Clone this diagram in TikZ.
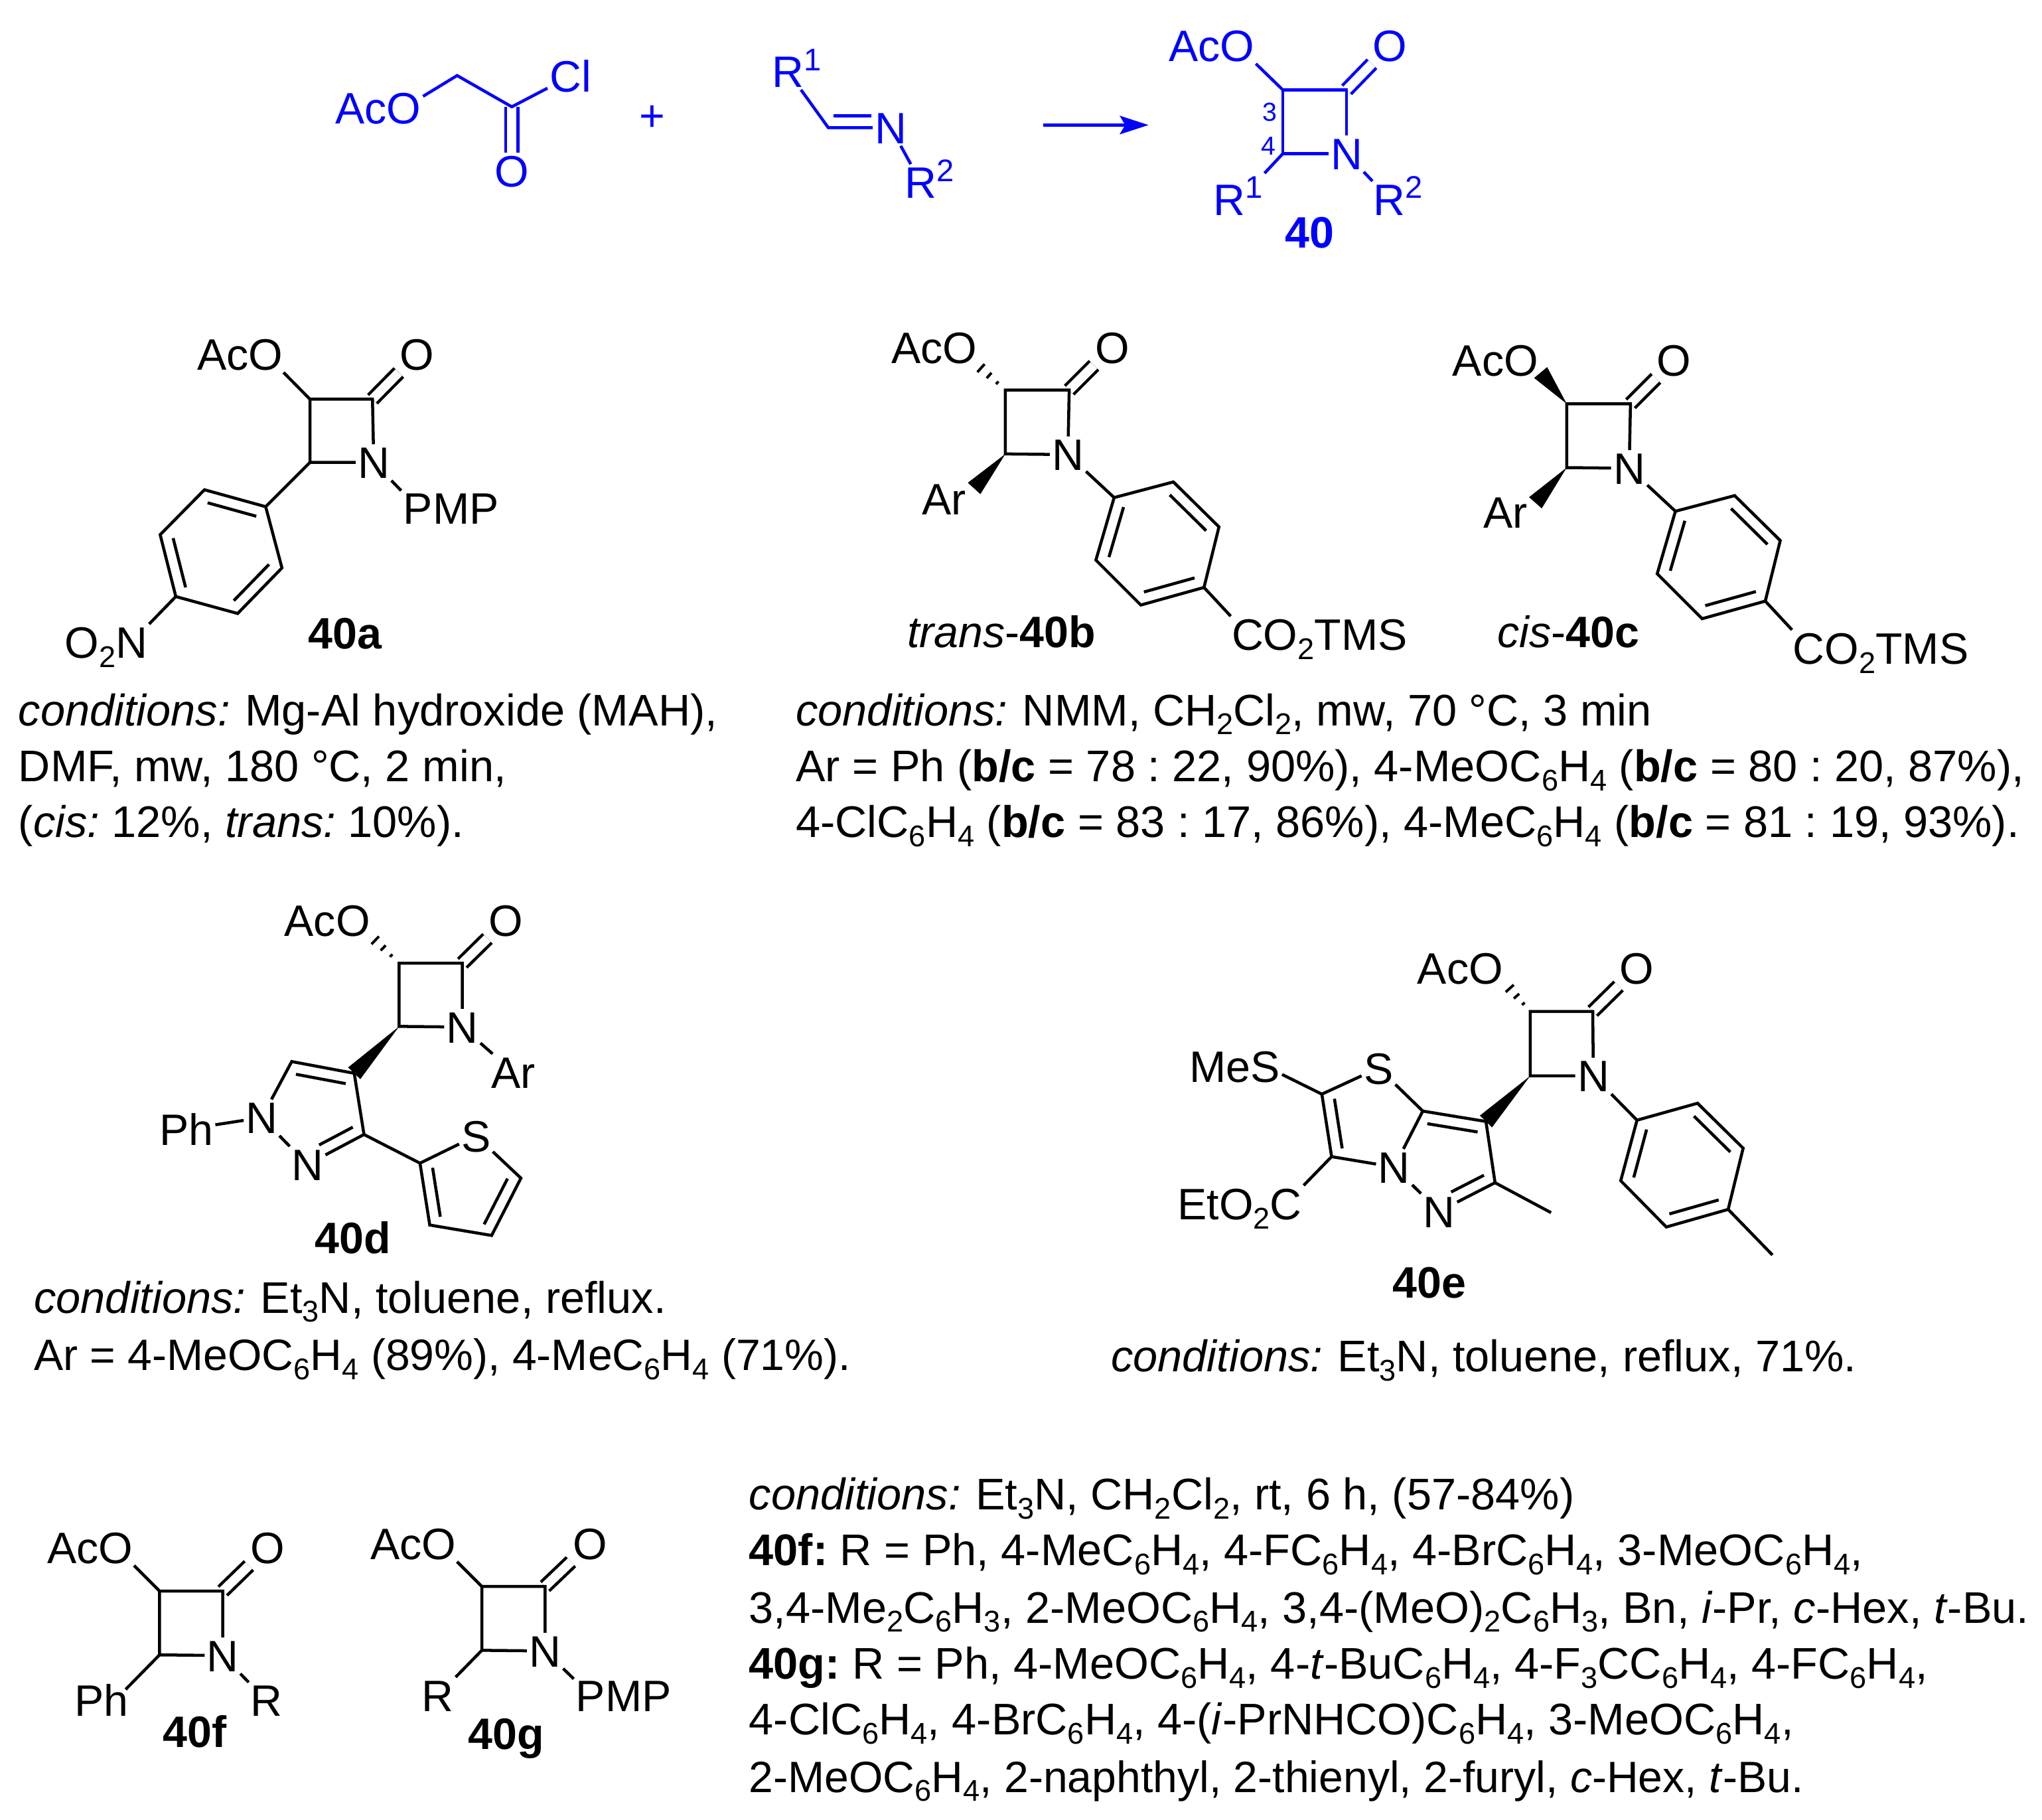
\documentclass[tikz,border=0pt]{standalone}
\usepackage{fontspec}
\setmainfont{Liberation Sans}
\usetikzlibrary{calc,arrows.meta}

\newcommand{\chlo}[1]{\raisebox{-7pt}{\fontsize{23}{23}\selectfont #1}}
\newcommand{\chhi}[1]{\raisebox{13pt}{\fontsize{24}{24}\selectfont #1}}
\newcommand{\cond}{\textit{conditions:}\hspace{2pt} }
% second line of a double bond, beside the first
\newcommand{\inbond}[4][]{\draw[bond,shorten <=5pt,shorten >=5pt,#1] ($(#2)!#4!90:(#3)$) -- ($(#3)!#4!-90:(#2)$);}
\newcommand{\wedgebond}[2]{\fill ($(#2)!6.5pt!90:(#1)$) -- (#1) -- ($(#2)!6.5pt!-90:(#1)$) -- cycle;}
\newcommand{\hashbond}[2]{\foreach \f in {0.25,0.5,0.75,1}{\draw[line width=2pt] ($(#1)!\f!(#2)!\f*5.5pt!90:(#2)$) -- ($(#1)!\f!(#2)!\f*5.5pt!-90:(#2)$);}}

\tikzset{
    every node/.style={font=\fontsize{33.8}{40}\selectfont},
    bond/.style={line width=2.3pt},
    dbl/.style={line width=2.3pt,double,double distance=7pt},
    atom/.style={inner sep=1.5pt,text height=24.5pt,text depth=0pt},
    txt/.style={inner sep=0pt,anchor=base west,font=\fontsize{34}{40}\selectfont},
    txtnarrow/.style={txt,font=\fontsize{33.7}{40}\selectfont},
    locant/.style={inner sep=0pt,font=\fontsize{20}{20}\selectfont},
}

\begin{document}
\frenchspacing
\begin{tikzpicture}[x=1pt,y=-1pt]
    \useasboundingbox (0,0) rectangle (1568,1397);

    % scheme
    \scope[blue]
        \node[atom] (tAO) at (310,83) {\llap{Ac}O};
        \node[atom] (tACl) at (438,58.5) {Cl};
        \node[atom] (tAOx) at (393,131) {O};
        \coordinate (tA1) at (351,58);
        \coordinate (tA2) at (393,82);
        \draw[dbl] (tA2) -- (tAOx);
        \draw[bond] (tAO) -- (tA1) -- (tA2) -- (tACl);
        \node[inner sep=0pt] (tPlus) at (501,91) {+};
        \node[atom] (tIR) at (605,55) {R\rlap{\chhi{1}}};
        \node[atom] (tIN) at (684,98) {N};
        \node[atom] (tIRb) at (707,140) {R\rlap{\chhi{2}}};
        \coordinate (tI1) at (636,98);
        \draw[bond] (tIR) -- (tI1) -- (tIN) -- (tIRb);
        \inbond[shorten <=4pt,shorten >=15pt]{tI1}{tIN}{9pt}
        \coordinate (tArr1) at (801,96);
        \coordinate (tArr2) at (882,96);
        \draw[line width=2.8pt,-{Stealth[length=22pt,width=14pt,inset=4pt]}] (tArr1) -- (tArr2);
        \node[atom] (tO) at (950,35) {\llap{Ac}O};
        \node[atom] (tOx) at (1067,35) {O};
        \node[atom] (tN) at (1034,118) {N};
        \node[atom] (tR1) at (944,153) {R\rlap{\chhi{1}}};
        \node[atom] (tR2) at (1067,153) {R\rlap{\chhi{2}}};
        \coordinate (tC3) at (985,69);
        \coordinate (tC2) at (1034,69);
        \coordinate (tC4) at (985,118);
        \coordinate (tR1e) at (971,133);
        \draw[dbl] (tC2) -- (tOx);
        \draw[bond] (tN) -- (tC4) -- (tC3) -- (tC2) -- (tN);
        \draw[bond] (tC3) -- (tO) (tC4) -- (tR1e) (tN) -- (tR2);
        \node[locant] (tL3) at (975,86) {3};
        \node[locant] (tL4) at (974,112) {4};
        \node[atom] (tLab) at (1005.5,178) {\textbf{40}};
    \endscope

    % 40a
    \node[atom] (aO) at (204,272) {\llap{Ac}O};
    \node[atom] (aOx) at (320,272) {O};
    \node[atom] (aN) at (287,355) {N};
    \node[atom] (aPMP) at (321,390) {P\rlap{MP}};
    \node[atom] (aNO) at (101,493) {\llap{O\chlo{2}}N};
    \node[atom] (aLab) at (265,486) {\textbf{40a}};
    \coordinate (aC3) at (238,306.5);
    \coordinate (aC2) at (286,306.5);
    \coordinate (aC4) at (238,355);
    \coordinate (aP1) at (204,389);
    \coordinate (aP2) at (157,376);
    \coordinate (aP3) at (123,410.5);
    \coordinate (aP4) at (135,458);
    \coordinate (aP5) at (182.5,471);
    \coordinate (aP6) at (216.5,436);
    \draw[dbl] (aC2) -- (aOx);
    \draw[bond] (aN) -- (aC4) -- (aC3) -- (aC2) -- (aN);
    \draw[bond] (aC3) -- (aO) (aN) -- (aPMP) (aC4) -- (aP1) (aP4) -- (aNO);
    \draw[bond] (aP1) -- (aP2) -- (aP3) -- (aP4) -- (aP5) -- (aP6) -- cycle;
    \inbond{aP1}{aP2}{9pt}
    \inbond{aP3}{aP4}{9pt}
    \inbond{aP5}{aP6}{9pt}
    \node[txt] (aT1) at (14,557) {\cond Mg-Al hydroxide (MAH),};
    \node[txt] (aT2) at (14,600) {DMF, mw, 180 °C, 2 min,};
    \node[txt] (aT3) at (14,643) {(\textit{cis:} 12\%, \textit{trans:} 10\%).};

    % 40b
    \node[atom] (bO) at (737,266.5) {\llap{Ac}O};
    \node[atom] (bOx) at (854,266.5) {O};
    \node[atom] (bN) at (820,349) {N};
    \node[atom] (bAr) at (725,383) {Ar};
    \node[atom] (bCO) at (958,487) {C\rlap{O\chlo{2}TMS}};
    \node[atom] (bLab) at (769,485) {\textit{trans}-\textbf{40b}};
    \coordinate (bC3) at (772,299.5);
    \coordinate (bC2) at (821,299.5);
    \coordinate (bC4) at (772,348.5);
    \coordinate (bH) at (747,277);
    \coordinate (bW) at (748,375);
    \coordinate (bP1) at (855.5,382);
    \coordinate (bP2) at (901,370);
    \coordinate (bP3) at (936,404.5);
    \coordinate (bP4) at (924.5,451);
    \coordinate (bP5) at (876,464.5);
    \coordinate (bP6) at (841.5,430);
    \draw[dbl] (bC2) -- (bOx);
    \draw[bond] (bN) -- (bC4) -- (bC3) -- (bC2) -- (bN);
    \hashbond{bC3}{bH}
    \wedgebond{bC4}{bW}
    \draw[bond] (bN) -- (bP1) (bP4) -- (bCO);
    \draw[bond] (bP1) -- (bP2) -- (bP3) -- (bP4) -- (bP5) -- (bP6) -- cycle;
    \inbond{bP2}{bP3}{-9pt}
    \inbond{bP4}{bP5}{-9pt}
    \inbond{bP6}{bP1}{-9pt}

    % 40c
    \node[atom] (cO) at (1168,276.5) {\llap{Ac}O};
    \node[atom] (cOx) at (1285.5,276.5) {O};
    \node[atom] (cN) at (1251,359.5) {N};
    \node[atom] (cAr) at (1156,393) {Ar};
    \node[atom] (cCO) at (1389,497.5) {C\rlap{O\chlo{2}TMS}};
    \node[atom] (cLab) at (1204.5,485) {\textit{cis}-\textbf{40c}};
    \coordinate (cC3) at (1203,310);
    \coordinate (cC2) at (1252,310);
    \coordinate (cC4) at (1203,359);
    \coordinate (cH) at (1183,286);
    \coordinate (cW) at (1179,386);
    \coordinate (cP1) at (1286.5,392.5);
    \coordinate (cP2) at (1332,380.5);
    \coordinate (cP3) at (1367,415);
    \coordinate (cP4) at (1355.5,461.5);
    \coordinate (cP5) at (1307,475);
    \coordinate (cP6) at (1272.5,440.5);
    \draw[dbl] (cC2) -- (cOx);
    \draw[bond] (cN) -- (cC4) -- (cC3) -- (cC2) -- (cN);
    \wedgebond{cC3}{cH}
    \wedgebond{cC4}{cW}
    \draw[bond] (cN) -- (cP1) (cP4) -- (cCO);
    \draw[bond] (cP1) -- (cP2) -- (cP3) -- (cP4) -- (cP5) -- (cP6) -- cycle;
    \inbond{cP2}{cP3}{-9pt}
    \inbond{cP4}{cP5}{-9pt}
    \inbond{cP6}{cP1}{-9pt}
    \node[txt] (bT1) at (611,557) {\cond NMM, CH\chlo{2}Cl\chlo{2}, mw, 70 °C, 3 min};
    \node[txt] (bT2) at (611,600) {Ar = Ph (\textbf{b/c} = 78 : 22, 90\%), 4-MeOC\chlo{6}H\chlo{4} (\textbf{b/c} = 80 : 20, 87\%),};
    \node[txt] (bT3) at (611,643) {4-ClC\chlo{6}H\chlo{4} (\textbf{b/c} = 83 : 17, 86\%), 4-MeC\chlo{6}H\chlo{4} (\textbf{b/c} = 81 : 19, 93\%).};

    % 40d
    \node[atom] (dO) at (271,706.5) {\llap{Ac}O};
    \node[atom] (dOx) at (388.5,706.5) {O};
    \node[atom] (dN) at (355,788.5) {N};
    \node[atom] (dAr) at (394,823) {Ar};
    \node[atom] (dN1) at (201,858) {N};
    \node[atom] (dN2) at (236,894) {N};
    \node[atom] (dPh) at (143,867) {Ph};
    \node[atom] (dS) at (365.5,872) {S};
    \node[atom] (dLab) at (271,950) {\textbf{40d}};
    \coordinate (dC3) at (306.5,739.5);
    \coordinate (dC2) at (355,739.5);
    \coordinate (dC4) at (306.5,788);
    \coordinate (dH) at (282,716);
    \coordinate (dP1) at (272,824);
    \coordinate (dP3) at (279.5,871);
    \coordinate (dP5) at (224,815);
    \coordinate (dT1) at (322.5,893);
    \coordinate (dT2) at (400,904.5);
    \coordinate (dT3) at (377.5,948.5);
    \coordinate (dT4) at (330,940.5);
    \draw[dbl] (dC2) -- (dOx);
    \draw[bond] (dN) -- (dC4) -- (dC3) -- (dC2) -- (dN);
    \draw[bond] (dN) -- (dAr);
    \hashbond{dC3}{dH}
    \wedgebond{dC4}{dP1}
    \draw[bond] (dN1) -- (dP5) -- (dP1) -- (dP3) -- (dN2) -- (dN1);
    \inbond{dP5}{dP1}{-9pt}
    \inbond[shorten >=15pt]{dP3}{dN2}{-9pt}
    \draw[bond] (dPh) -- (dN1) (dP3) -- (dT1);
    \draw[bond] (dS) -- (dT2) -- (dT3) -- (dT4) -- (dT1) -- (dS);
    \inbond{dT2}{dT3}{-9pt}
    \inbond{dT4}{dT1}{-9pt}
    \node[txt] (dT5) at (26,1008) {\cond Et\chlo{3}N, toluene, reflux.};
    \node[txtnarrow] (dT6) at (26,1052) {Ar = 4-MeOC\chlo{6}H\chlo{4} (89\%), 4-MeC\chlo{6}H\chlo{4} (71\%).};

    % 40e
    \node[atom] (eO) at (1141,743) {\llap{Ac}O};
    \node[atom] (eOx) at (1257,743) {O};
    \node[atom] (eNl) at (1223.5,826) {N};
    \node[atom] (eS) at (1058.5,820) {S};
    \node[atom] (eN) at (1070.5,896) {N};
    \node[atom] (eNp) at (1105,930) {N};
    \node[atom] (eMeS) at (971.5,818.5) {\llap{Me}S};
    \node[atom] (eEt) at (987.5,924) {\llap{EtO\chlo{2}}C};
    \node[atom] (eLab) at (1097.5,984) {\textbf{40e}};
    \coordinate (eC3) at (1175,776.5);
    \coordinate (eC2) at (1223,776.5);
    \coordinate (eC4) at (1175,826);
    \coordinate (eH) at (1154,753);
    \coordinate (eC7) at (1141,861);
    \coordinate (eC7a) at (1092.5,853);
    \coordinate (eC6) at (1148,908);
    \coordinate (eMe) at (1191,931);
    \coordinate (eR2) at (1015,840);
    \coordinate (eR3) at (1022.5,888);
    \coordinate (eT1) at (1257,860);
    \coordinate (eT2) at (1303.5,847);
    \coordinate (eT3) at (1338.5,881.5);
    \coordinate (eT4) at (1327,928.5);
    \coordinate (eT5) at (1279.5,942);
    \coordinate (eT6) at (1244.5,906.5);
    \coordinate (eMt) at (1361,963.5);
    \draw[dbl] (eC2) -- (eOx);
    \draw[bond] (eNl) -- (eC4) -- (eC3) -- (eC2) -- (eNl);
    \hashbond{eC3}{eH}
    \wedgebond{eC4}{eC7}
    \draw[bond] (eN) -- (eC7a) -- (eC7) -- (eC6) -- (eNp) -- (eN);
    \draw[bond] (eC7a) -- (eS) -- (eR2) -- (eR3) -- (eN);
    \draw[bond] (eR2) -- (eMeS) (eR3) -- (eEt) (eC6) -- (eMe);
    \inbond{eC7a}{eC7}{-9pt}
    \inbond[shorten >=15pt]{eC6}{eNp}{-9pt}
    \inbond{eR2}{eR3}{9pt}
    \draw[bond] (eNl) -- (eT1) (eT4) -- (eMt);
    \draw[bond] (eT1) -- (eT2) -- (eT3) -- (eT4) -- (eT5) -- (eT6) -- cycle;
    \inbond{eT2}{eT3}{-9pt}
    \inbond{eT4}{eT5}{-9pt}
    \inbond{eT6}{eT1}{-9pt}
    \node[txt] (eT7) at (853,1053) {\cond Et\chlo{3}N, toluene, reflux, 71\%.};

    % 40f
    \node[atom] (fO) at (89,1188) {\llap{Ac}O};
    \node[atom] (fOx) at (205.5,1188) {O};
    \node[atom] (fN) at (171,1271) {N};
    \node[atom] (fPh) at (78,1305.5) {Ph};
    \node[atom] (fR) at (204.5,1305.5) {R};
    \node[atom] (fLab) at (149.5,1329) {\textbf{40f}};
    \coordinate (fC3) at (122.5,1221.5);
    \coordinate (fC2) at (171,1221.5);
    \coordinate (fC4) at (122.5,1270.5);
    \coordinate (fPhe) at (96.5,1297);
    \draw[dbl] (fC2) -- (fOx);
    \draw[bond] (fN) -- (fC4) -- (fC3) -- (fC2) -- (fN);
    \draw[bond] (fC3) -- (fO) (fC4) -- (fPhe) (fN) -- (fR);

    % 40g
    \node[atom] (gO) at (337,1185) {\llap{Ac}O};
    \node[atom] (gOx) at (453,1185) {O};
    \node[atom] (gN) at (418.5,1267.5) {N};
    \node[atom] (gR) at (336,1301.5) {R};
    \node[atom] (gPMP) at (453.5,1301.5) {P\rlap{MP}};
    \node[atom] (gLab) at (388.5,1330.5) {\textbf{40g}};
    \coordinate (gC3) at (370,1218);
    \coordinate (gC2) at (418.5,1218);
    \coordinate (gC4) at (370,1267);
    \draw[dbl] (gC2) -- (gOx);
    \draw[bond] (gN) -- (gC4) -- (gC3) -- (gC2) -- (gN);
    \draw[bond] (gC3) -- (gO) (gC4) -- (gR.north east) (gN) -- (gPMP);

    \node[txt] (gT1) at (575,1159) {\cond Et\chlo{3}N, CH\chlo{2}Cl\chlo{2}, rt, 6 h, (57-84\%)};
    \node[txt] (gT2) at (575,1202) {\textbf{40f:} R = Ph, 4-MeC\chlo{6}H\chlo{4}, 4-FC\chlo{6}H\chlo{4}, 4-BrC\chlo{6}H\chlo{4}, 3-MeOC\chlo{6}H\chlo{4},};
    \node[txt] (gT3) at (575,1246) {3,4-Me\chlo{2}C\chlo{6}H\chlo{3}, 2-MeOC\chlo{6}H\chlo{4}, 3,4-(MeO)\chlo{2}C\chlo{6}H\chlo{3}, Bn, \textit{i}-Pr, \textit{c}-Hex, \textit{t}-Bu.};
    \node[txt] (gT4) at (575,1289) {\textbf{40g:} R = Ph, 4-MeOC\chlo{6}H\chlo{4}, 4-\textit{t}-BuC\chlo{6}H\chlo{4}, 4-F\chlo{3}CC\chlo{6}H\chlo{4}, 4-FC\chlo{6}H\chlo{4},};
    \node[txt] (gT5) at (575,1332) {4-ClC\chlo{6}H\chlo{4}, 4-BrC\chlo{6}H\chlo{4}, 4-(\textit{i}-PrNHCO)C\chlo{6}H\chlo{4}, 3-MeOC\chlo{6}H\chlo{4},};
    \node[txtnarrow] (gT6) at (575,1376) {2-MeOC\chlo{6}H\chlo{4}, 2-naphthyl, 2-thienyl, 2-furyl, \textit{c}-Hex, \textit{t}-Bu.};
\end{tikzpicture}
\end{document}
